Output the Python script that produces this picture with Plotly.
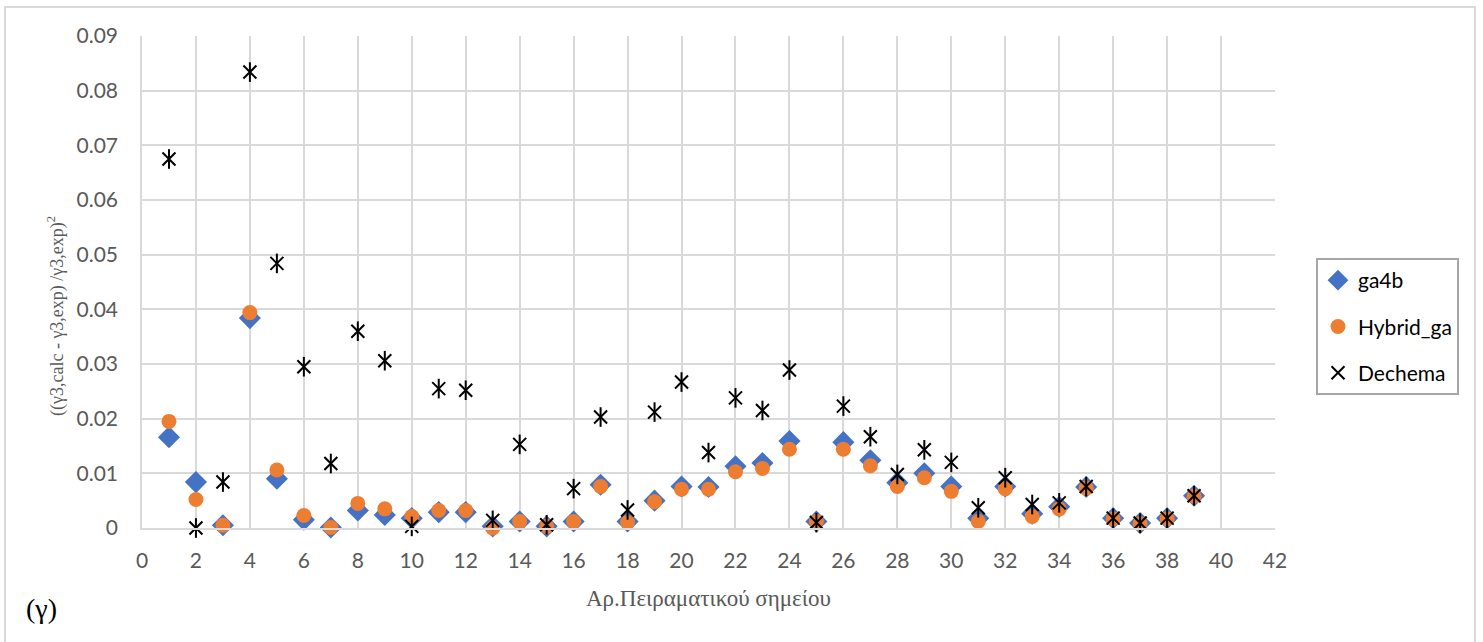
import plotly.graph_objects as go

# Experimental point index
points = list(range(1, 40))

# Squared relative deviation of γ3 for each model
ga4b = [0.0166, 0.0084, 0.0005, 0.0384, 0.0090, 0.0015, 0.0001, 0.0032, 0.0024, 0.0018,
        0.0029, 0.0029, 0.0003, 0.0012, 0.0003, 0.0012, 0.0079, 0.0012, 0.0050, 0.0076,
        0.0075, 0.0113, 0.0119, 0.0159, 0.0012, 0.0157, 0.0124, 0.0083, 0.0100, 0.0076,
        0.0018, 0.0076, 0.0026, 0.0039, 0.0075, 0.0018, 0.0009, 0.0018, 0.0059]
hybrid_ga = [0.0195, 0.0052, 0.0005, 0.0394, 0.0106, 0.0023, 0.0001, 0.0045, 0.0035, 0.0021,
             0.0032, 0.0032, 0.0000, 0.0012, 0.0003, 0.0012, 0.0076, 0.0010, 0.0048, 0.0071,
             0.0071, 0.0103, 0.0109, 0.0144, 0.0012, 0.0144, 0.0114, 0.0076, 0.0092, 0.0067,
             0.0012, 0.0072, 0.0021, 0.0035, 0.0073, 0.0017, 0.0008, 0.0017, 0.0058]
dechema = [0.0675, 0.0000, 0.0084, 0.0834, 0.0484, 0.0295, 0.0118, 0.0360, 0.0306, 0.0003,
           0.0255, 0.0252, 0.0014, 0.0153, 0.0006, 0.0072, 0.0203, 0.0033, 0.0212, 0.0267,
           0.0138, 0.0238, 0.0215, 0.0289, 0.0010, 0.0223, 0.0167, 0.0098, 0.0143, 0.0120,
           0.0037, 0.0092, 0.0043, 0.0046, 0.0076, 0.0018, 0.0009, 0.0018, 0.0059]

W, H = 1483, 642
L, R, T, B = 142, 208, 36, 114
pw, ph = W - L - R, H - T - B


def px_x(p):
    return (p - L) / pw


def px_y(p):
    return (H - B - p) / ph


fig = go.Figure()
fig.add_trace(go.Scatter(
    x=points, y=ga4b, mode="markers", name="ga4b", legendgroup="a", cliponaxis=False,
    marker=dict(symbol="diamond", size=17, color="#4472C4", line=dict(width=0)),
))
fig.add_trace(go.Scatter(
    x=points, y=hybrid_ga, mode="markers", name="Hybrid_ga", legendgroup="b", cliponaxis=False,
    marker=dict(symbol="circle", size=15, color="#ED7D31", line=dict(width=0)),
))
fig.add_trace(go.Scatter(
    x=points, y=dechema, mode="markers", name="Dechema", legendgroup="c", cliponaxis=False,
    marker=dict(symbol="x-thin-open", size=13, color="black",
                line=dict(width=2, color="black")),
))
# vertical stroke of the star marker
fig.add_trace(go.Scatter(
    x=points, y=dechema, mode="markers", showlegend=False, legendgroup="c", cliponaxis=False,
    marker=dict(symbol="line-ns-open", size=14, color="black",
                line=dict(width=2, color="black")),
))

grid = "#D9D9D9"
tick_font = dict(family="Lato, Open Sans, sans-serif", size=21, color="#595959")
serif = "Liberation Serif, DejaVu Serif, serif"

fig.update_layout(
    width=W, height=H,
    margin=dict(l=L, r=R, t=T, b=B),
    paper_bgcolor="white", plot_bgcolor="white",
    xaxis=dict(
        range=[0, 42], dtick=2, tick0=0,
        showgrid=True, gridcolor=grid, gridwidth=1.5,
        showline=True, linecolor=grid, linewidth=1.5,
        zeroline=False, ticks="", tickfont=tick_font, ticklabelstandoff=13,
    ),
    yaxis=dict(
        range=[0, 0.09], dtick=0.01, tick0=0,
        showgrid=True, gridcolor=grid, gridwidth=1.5,
        showline=True, linecolor=grid, linewidth=1.5,
        zeroline=False, ticks="", tickfont=tick_font, ticklabelstandoff=18,
    ),
    legend=dict(
        x=px_x(1316), y=px_y(258), xanchor="left", yanchor="top",
        bordercolor="#A6A6A6", borderwidth=2, bgcolor="white",
        font=dict(family="Lato, Open Sans, sans-serif", size=21, color="black"),
        traceorder="grouped", tracegroupgap=16, itemwidth=30,
    ),
    shapes=[dict(
        type="rect", xref="paper", yref="paper",
        x0=px_x(5), x1=px_x(1475), y0=px_y(646), y1=px_y(7),
        line=dict(color="#D9D9D9", width=2), fillcolor="rgba(0,0,0,0)", layer="below",
    )],
    annotations=[
        dict(
            text="((γ3,calc - γ3,exp) /γ3,exp)<sup>2</sup>", xref="paper", yref="paper",
            x=px_x(56), y=px_y(316), xanchor="center", yanchor="middle", textangle=-90,
            showarrow=False, font=dict(family=serif, size=18, color="#595959"),
        ),
        dict(
            text="Αρ.Πειραματικού σημείου", xref="paper", yref="paper",
            x=px_x(708), y=px_y(598), xanchor="center", yanchor="middle",
            showarrow=False, font=dict(family=serif, size=23, color="#595959"),
        ),
        dict(
            text="(γ)", xref="paper", yref="paper", x=px_x(24), y=px_y(608),
            xanchor="left", yanchor="middle", showarrow=False,
            font=dict(family=serif, size=28, color="black"),
        ),
    ],
)

fig.write_html("out.html")
